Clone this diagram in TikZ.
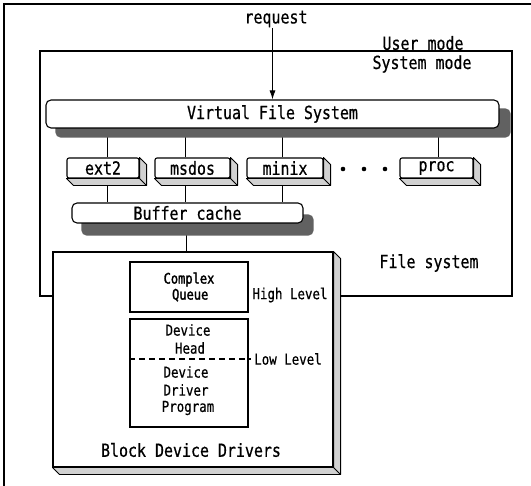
\documentclass[tikz,border=0pt]{standalone}
\usepackage{fontspec}
\newfontfamily\djm[FakeStretch=0.83,FakeBold=0.6]{DejaVu Sans Mono}
\newfontfamily\djmb[FakeStretch=0.83,FakeBold=1.8]{DejaVu Sans Mono}
\usetikzlibrary{calc,arrows.meta,backgrounds}
\newcommand\boxdepth[2]{%
  \filldraw[fill=black!18, line width=0.9pt, line join=round]
    (#1.north east) -- ++(#2,#2) -- ($(#1.south east)+(#2,#2)$)
    -- ($(#1.south west)+(#2,#2)$) -- (#1.south west) -- (#1.south east) -- cycle;
  \draw[line width=0.9pt] (#1.south east) -- ++(#2,#2);}
\begin{document}
\begin{tikzpicture}[x=1pt,y=-1pt, line width=1.1pt,
  big/.style={font=\djm\fontsize{18}{20}\selectfont},
  small/.style={font=\djm\fontsize{15}{17}\selectfont},
  smallb/.style={font=\djmb\fontsize{14.5}{17}\selectfont},
  rbox/.style={draw, fill=white, rounded corners=5pt, inner sep=0pt, big},
  fsbox/.style={draw, fill=white, rounded corners=2pt, inner sep=0pt, minimum height=20pt, big},
  sqbox/.style={draw, fill=white, inner sep=0pt},
  lbl/.style={inner sep=0pt},
  conn/.style={line width=0.9pt},
  shade/.style={fill=black!62, draw=none, rounded corners=5pt}]

\useasboundingbox (0,0) rectangle (531,486);

% outer frame (only left and top visible)
\draw[line width=1.7pt] (4,486) -- (4,4) -- (531,4);
% system mode area
\draw (40,51) rectangle (512,296);

% texts outside boxes
\node[lbl, big] (req) at (276,19) {request};
\node[lbl, big] (user) at (423,43) {User mode};
\node[lbl, big] (sys) at (422,64) {System mode};
\node[lbl, big] (fs) at (429,263) {File system};

% Virtual File System
\node[rbox, minimum width=453pt, minimum height=28pt] (vfs) at (272.5,114) {Virtual File System};

% file system boxes
\node[fsbox, minimum width=72pt] (ext2) at (103,168) {ext2};
\node[fsbox, minimum width=75pt] (msdos) at (192.5,168) {msdos};
\node[fsbox, minimum width=76pt] (minix) at (285,168) {minix};
\node[fsbox, minimum width=73pt] (proc) at (436.5,168) {proc};
\boxdepth{ext2}{7}
\boxdepth{msdos}{7}
\boxdepth{minix}{7}
\boxdepth{proc}{7}
\foreach \x in {343,364,385} \fill (\x,169) circle (2.3);

% buffer cache
\node[rbox, minimum width=231pt, minimum height=20pt] (buf) at (187.5,213) {Buffer cache};

% block device drivers
\node[sqbox, minimum width=280pt, minimum height=215pt] (bdd) at (193,359.5) {};
\boxdepth{bdd}{7}
\node[sqbox, minimum width=118pt, minimum height=50pt, align=center, smallb] (cq) at (189,287) {Complex\\[-1pt]\,Queue};
\node[sqbox, minimum width=118pt, minimum height=108pt] (dev) at (189,373) {};
\node[lbl, small] (d1) at (188,330) {Device};
\node[lbl, small] (d2) at (190,348) {Head};
\node[lbl, small] (d3) at (186,372) {Device};
\node[lbl, small] (d4) at (186,390) {Driver};
\node[lbl, small] (d5) at (188,408) {Program};
\coordinate (dashL) at ($(dev.west)+(0,-14)$);
\coordinate (dashR) at ($(dev.east)+(2,-14)$);
\draw[dash pattern=on 6pt off 4pt, line width=1.1pt] (dashL) -- (dashR);
\node[lbl, small] (hl) at (290,295) {High Level};
\node[lbl, small] (ll) at (288,359) {Low Level};
\node[lbl, big] (bddt) at (191,450) {Block Device Drivers};

% connectors and shadows behind
\begin{scope}[on background layer]
  \draw[conn] ([xshift=4pt]ext2.north) -- ([xshift=4pt]ext2.north |- vfs.south);
  \draw[conn] ([xshift=-7pt]msdos.north) -- ([xshift=-7pt]msdos.north |- vfs.south);
  \draw[conn] ([xshift=-3pt]minix.north) -- ([xshift=-3pt]minix.north |- vfs.south);
  \draw[conn] ([xshift=2pt]proc.north) -- ([xshift=2pt]proc.north |- vfs.south);
  \draw[conn] ([xshift=4pt]ext2.south) -- ([xshift=4pt]ext2.south |- buf.north);
  \draw[conn] ([xshift=-7pt]msdos.south) -- ([xshift=-7pt]msdos.south |- buf.north);
  \draw[conn] ([xshift=-3pt]minix.south) -- ([xshift=-3pt]minix.south |- buf.north);
  \draw[conn] ([xshift=-1pt]buf.south) -- ([xshift=-1pt]buf.south |- bdd.north);
  \fill[shade] ($(vfs.north west)+(10,9)$) rectangle ($(vfs.south east)+(11,9)$);
  \fill[shade] ($(buf.north west)+(10,12)$) rectangle ($(buf.south east)+(10,12)$);
\end{scope}

% request arrow
\draw[conn, -{Latex[length=9pt,width=6pt]}] (vfs.north |- req.south) -- (vfs.north);
\end{tikzpicture}
\end{document}
